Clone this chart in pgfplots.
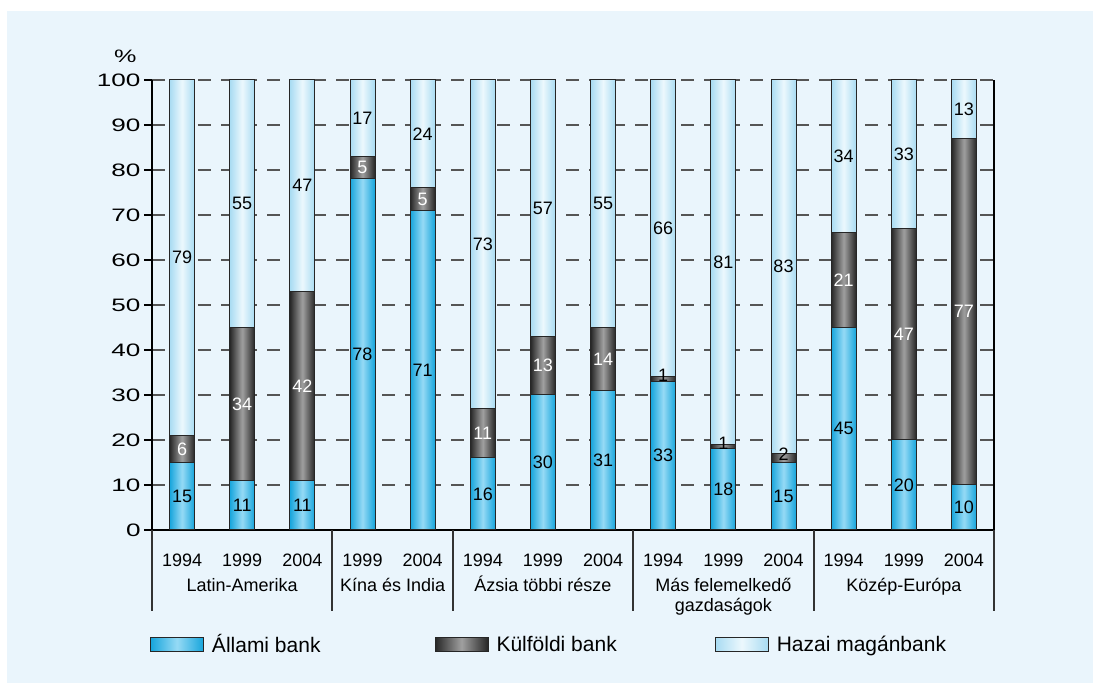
\documentclass[border=0pt]{standalone}
\usepackage{pgfplots}
\pgfplotsset{compat=1.18}
\usepackage{pgfplotstable}
\usepackage{fontspec}
\setmainfont{Liberation Sans}
\definecolor{bgc}{RGB}{234,245,252}
\definecolor{aedge}{RGB}{22,165,220}
\definecolor{amid}{RGB}{150,218,245}
\definecolor{kedge}{RGB}{38,38,38}
\definecolor{kmid}{RGB}{160,160,160}
\definecolor{hedge}{RGB}{168,219,242}
\definecolor{hmid}{RGB}{236,248,253}
\definecolor{gridc}{RGB}{85,85,85}

\newcommand\defbarshading[3]{\pgfdeclarehorizontalshading{#1}{100bp}{color(0bp)=(#2); color(25bp)=(#2); color(25.7746bp)=(#3); color(26.5492bp)=(#2);
color(28.7270bp)=(#2); color(29.5016bp)=(#3); color(30.2762bp)=(#2);
color(32.4540bp)=(#2); color(33.2286bp)=(#3); color(34.0032bp)=(#2);
color(36.1809bp)=(#2); color(36.9555bp)=(#3); color(37.7301bp)=(#2);
color(39.9079bp)=(#2); color(40.6825bp)=(#3); color(41.4571bp)=(#2);
color(43.6349bp)=(#2); color(44.4095bp)=(#3); color(45.1841bp)=(#2);
color(47.3619bp)=(#2); color(48.1365bp)=(#3); color(48.9111bp)=(#2);
color(51.0889bp)=(#2); color(51.8635bp)=(#3); color(52.6381bp)=(#2);
color(54.8158bp)=(#2); color(55.5904bp)=(#3); color(56.3650bp)=(#2);
color(58.5428bp)=(#2); color(59.3174bp)=(#3); color(60.0920bp)=(#2);
color(62.2698bp)=(#2); color(63.0444bp)=(#3); color(63.8190bp)=(#2);
color(65.9968bp)=(#2); color(66.7714bp)=(#3); color(67.5460bp)=(#2);
color(69.7238bp)=(#2); color(70.4984bp)=(#3); color(71.2730bp)=(#2);
color(73.4507bp)=(#2); color(74.2253bp)=(#3); color(75bp)=(#2);
color(100bp)=(#2)}}
\defbarshading{shA}{aedge}{amid}
\defbarshading{shK}{kedge}{kmid}
\defbarshading{shH}{hedge}{hmid}

\pgfplotstableread{
x s k h
0 15 6 79
1 11 34 55
2 11 42 47
3 78 5 17
4 71 5 24
5 16 11 73
6 30 13 57
7 31 14 55
8 33 1 66
9 18 1 81
10 15 2 83
11 45 21 34
12 20 47 33
13 10 77 13
}\data

\begin{document}
\begin{tikzpicture}
\fill[white] (-76pt,-76.5pt) rectangle (470.5pt,265pt);
\fill[bgc] (-72.5pt,-76.5pt) rectangle (470.5pt,259.5pt);
\begin{axis}[
  at={(0pt,0pt)}, anchor=south west,
  scale only axis, width=421pt, height=225pt,
  xmin=-0.5, xmax=13.5, ymin=0, ymax=100, clip=false,
  ybar stacked, bar width=12.5pt,
  axis lines=left, axis line style={-, line width=1.2pt, black},
  ytick={0,10,...,100},
  xtick={0,...,13},
  xticklabels={1994,1999,2004,1999,2004,1994,1999,2004,1994,1999,2004,1994,1999,2004},
  tick align=outside, major tick length=4pt,
  x tick style={draw=none},
  y tick style={line width=1.1pt, black},
  /pgf/number format/assume math mode=true,
  yticklabel style={font=\fontsize{9}{10}\selectfont, inner sep=1pt, xscale=1.45},
  xticklabel style={font=\fontsize{9}{10}\selectfont, anchor=base, inner sep=0pt, yshift=-14.5pt},
  ymajorgrids,
  major grid style={gridc, line width=0.6pt, dash pattern=on 6.5pt off 5pt},
  legend columns=3,
  legend style={at={(0,0)}, anchor=west, xshift=-1pt, yshift=-57.5pt, draw=none, fill=none,
    inner sep=0pt, outer sep=0pt, column sep=0pt,
    font=\fontsize{10.5}{12}\selectfont,
    /tikz/every odd column/.append style={column sep=2pt},
    /tikz/every even column/.append style={column sep=47pt}},
  legend cell align=left,
]
\addplot[draw=black!85, line width=0.5pt, shade, shading=shA, shading angle=0,
  legend image code/.code={\draw[draw=black!85, line width=0.5pt, left color=aedge, right color=aedge, middle color=amid] (0pt,-3.5pt) rectangle (26.5pt,3.5pt);}]
  table[x=x, y=s] {\data};
\addlegendentry{Állami bank\rule{8pt}{0pt}}
\addplot[draw=black!85, line width=0.5pt, shade, shading=shK, shading angle=0,
  legend image code/.code={\draw[draw=black!85, line width=0.5pt, left color=kedge, right color=kedge, middle color=kmid] (0pt,-3.5pt) rectangle (26.5pt,3.5pt);}]
  table[x=x, y=k] {\data};
\addlegendentry{Külföldi bank}
\addplot[draw=black!85, line width=0.5pt, shade, shading=shH, shading angle=0,
  legend image code/.code={\draw[draw=black!85, line width=0.5pt, left color=hedge, right color=hedge, middle color=hmid] (0pt,-3.5pt) rectangle (26.5pt,3.5pt);}]
  table[x=x, y=h] {\data};
\addlegendentry{Hazai magánbank}

\draw[line width=1.2pt, black] (axis cs:13.5,0) -- (axis cs:13.5,100);
\draw[line width=1pt, black!80] (axis cs:-0.5,0) -- ++(0pt,-40.5pt);
\draw[line width=1pt, black!80] (axis cs:2.5,0) -- ++(0pt,-40.5pt);
\draw[line width=1pt, black!80] (axis cs:4.5,0) -- ++(0pt,-40.5pt);
\draw[line width=1pt, black!80] (axis cs:7.5,0) -- ++(0pt,-40.5pt);
\draw[line width=1pt, black!80] (axis cs:10.5,0) -- ++(0pt,-40.5pt);
\draw[line width=1pt, black!80] (axis cs:13.5,0) -- ++(0pt,-40.5pt);
\node[font=\fontsize{9}{11}\selectfont, anchor=base, inner sep=0pt, yshift=-31pt] at (axis cs:1,0) {Latin-Amerika};
\node[font=\fontsize{9}{11}\selectfont, anchor=base, inner sep=0pt, yshift=-31pt] at (axis cs:3.5,0) {Kína és India};
\node[font=\fontsize{9}{11}\selectfont, anchor=base, inner sep=0pt, yshift=-31pt] at (axis cs:6,0) {Ázsia többi része};
\node[font=\fontsize{9}{11}\selectfont, anchor=base, inner sep=0pt, yshift=-31pt] at (axis cs:9,0) {Más felemelkedő};
\node[font=\fontsize{9}{11}\selectfont, anchor=base, inner sep=0pt, yshift=-41pt] at (axis cs:9,0) {gazdaságok};
\node[font=\fontsize{9}{11}\selectfont, anchor=base, inner sep=0pt, yshift=-31pt] at (axis cs:12,0) {Közép-Európa};
\node[font=\fontsize{9}{10}\selectfont, inner sep=0pt, xscale=1.4, xshift=-9.5pt, yshift=12pt] at (rel axis cs:0,1) {\%};
\end{axis}
\begin{axis}[
  at={(0pt,0pt)}, anchor=south west,
  scale only axis, width=421pt, height=225pt,
  xmin=-0.5, xmax=13.5, ymin=0, ymax=100, clip=false, hide axis,
  every node near coord/.append style={anchor=center, inner sep=0pt, font=\fontsize{9}{10}\selectfont},
]
\addplot[only marks, mark=none, nodes near coords, point meta=explicit symbolic]
  table[x=x, y expr=\thisrow{s}/2, meta=s] {\data};
\addplot[only marks, mark=none, nodes near coords, point meta=explicit symbolic]
  table[x=x, y expr=\thisrow{s}+\thisrow{k}+\thisrow{h}/2, meta=h] {\data};
\addplot[only marks, mark=none, nodes near coords, point meta=explicit symbolic,
  every node near coord/.append style={text=white}, restrict expr to domain={\thisrow{k}}{3:100}]
  table[x=x, y expr=\thisrow{s}+\thisrow{k}/2, meta=k] {\data};
\addplot[only marks, mark=none, nodes near coords, point meta=explicit symbolic,
  restrict expr to domain={\thisrow{k}}{0:2.5}]
  table[x=x, y expr=\thisrow{s}+\thisrow{k}/2+0.8, meta=k] {\data};
\end{axis}
\pgfresetboundingbox
\useasboundingbox (-76pt,-76.5pt) rectangle (470.5pt,265pt);
\end{tikzpicture}
\end{document}
